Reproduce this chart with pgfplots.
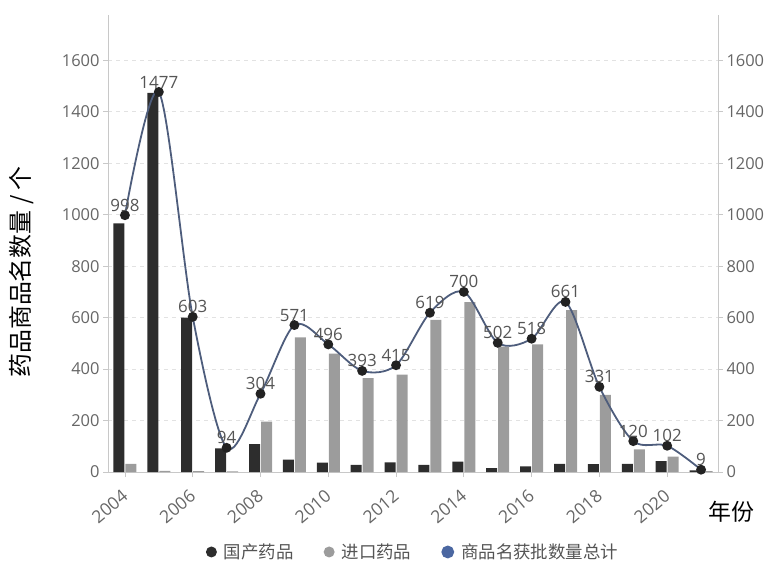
\documentclass[border=0pt]{standalone}
\usepackage{pgfplots}
\pgfplotsset{compat=1.18}
\usepackage{fontspec}
\setmainfont{Open Sans}
\newfontfamily\cjk{Noto Sans CJK SC}
\definecolor{darkbar}{HTML}{2D2D2D}
\definecolor{graybar}{HTML}{9C9C9C}
\definecolor{linecol}{HTML}{4E5D7C}
\definecolor{legblue}{HTML}{4B67A1}
\definecolor{markcol}{HTML}{222222}
\definecolor{axisgray}{HTML}{C8C8C8}
\definecolor{gridgray}{HTML}{E2E2E2}
\definecolor{ticktext}{HTML}{666666}
\definecolor{labeltext}{HTML}{555555}
\begin{document}
\begin{tikzpicture}
\useasboundingbox (-108bp,-90bp) rectangle (662bp,472bp);
\begin{axis}[
  at={(0,0)}, anchor=south west,
  scale only axis, width=610bp, height=457bp,
  xmin=2003.5, xmax=2021.5, ymin=0, ymax=1776,
  xtick={2004,2006,...,2020},
  ytick={0,200,...,1600},
  /pgf/number format/1000 sep={},
  /pgf/number format/assume math mode=true,
  axis x line*=bottom, axis y line*=left,
  axis line style={-, draw=axisgray, line width=0.8bp},
  tick align=outside, major tick length=5bp,
  tick style={draw=axisgray, line width=0.8bp},
  ymajorgrids,
  major grid style={draw=gridgray, dash pattern=on 4bp off 4bp, line width=0.8bp},
  ticklabel style={font=\fontsize{16.5}{16.5}\selectfont, text=ticktext},
  xticklabel style={xshift=-4bp, yshift=-10bp, rotate=40, anchor=north east, inner sep=1bp,
    font=\fontsize{17.5}{17.5}\selectfont},
  legend style={at={(0.5,-0.175)}, anchor=center, draw=none, fill=none,
    font=\cjk\fontsize{17.5}{17.5}\selectfont, text=labeltext,
    legend columns=-1,
    /tikz/every odd column/.append style={column sep=5bp},
    /tikz/every even column/.append style={column sep=28bp}},
  legend cell align=left,
]
\addplot[ybar, bar width=11bp, bar shift=-6bp, fill=darkbar, draw=none,
  legend image code/.code={\fill[darkbar] (0bp,0bp) circle (5.5bp);}]
  coordinates {
  (2004,966) (2005,1473) (2006,600) (2007,92) (2008,108) (2009,48)
  (2010,36) (2011,28) (2012,37) (2013,28) (2014,40) (2015,15)
  (2016,22) (2017,32) (2018,31) (2019,32) (2020,42) (2021,6)};
\addplot[ybar, bar width=11bp, bar shift=6bp, fill=graybar, draw=none,
  legend image code/.code={\fill[graybar] (0bp,0bp) circle (5.5bp);}]
  coordinates {
  (2004,32) (2005,4) (2006,3) (2007,2) (2008,196) (2009,523)
  (2010,460) (2011,365) (2012,378) (2013,591) (2014,660) (2015,487)
  (2016,496) (2017,629) (2018,300) (2019,88) (2020,60) (2021,3)};
\addplot[smooth, color=linecol, line width=1.8bp,
  mark=*, mark size=4bp, mark options={fill=markcol, draw=markcol},
  nodes near coords,
  every node near coord/.append style={font=\fontsize{17}{17}\selectfont,
    text=labeltext, anchor=south, inner sep=1bp, yshift=2bp},
  legend image code/.code={\fill[legblue] (0bp,0bp) circle (5.5bp);}]
  coordinates {
  (2004,998) (2005,1477) (2006,603) (2007,94) (2008,304) (2009,571)
  (2010,496) (2011,393) (2012,415) (2013,619) (2014,700) (2015,502)
  (2016,518) (2017,661) (2018,331) (2019,120) (2020,102) (2021,9)};
\legend{国产药品, 进口药品, 商品名获批数量总计}
\end{axis}
\begin{axis}[
  at={(0,0)}, anchor=south west,
  scale only axis, width=610bp, height=457bp,
  xmin=2003.5, xmax=2021.5, ymin=0, ymax=1776,
  axis x line=none, axis y line*=right,
  ytick={0,200,...,1600},
  /pgf/number format/1000 sep={},
  /pgf/number format/assume math mode=true,
  axis line style={-, draw=axisgray, line width=0.8bp},
  tick align=outside, major tick length=5bp,
  tick style={draw=axisgray, line width=0.8bp},
  ticklabel style={font=\fontsize{16.5}{16.5}\selectfont, text=ticktext},
]
\addplot[draw=none] coordinates {(2004,0)};
\end{axis}
\node[rotate=90, font=\cjk\fontsize{24}{24}\selectfont] at (-86bp,200bp) {药品商品名数量 / 个};
\node[font=\cjk\fontsize{23}{23}\selectfont] at (623bp,-40bp) {年份};
\end{tikzpicture}
\end{document}
